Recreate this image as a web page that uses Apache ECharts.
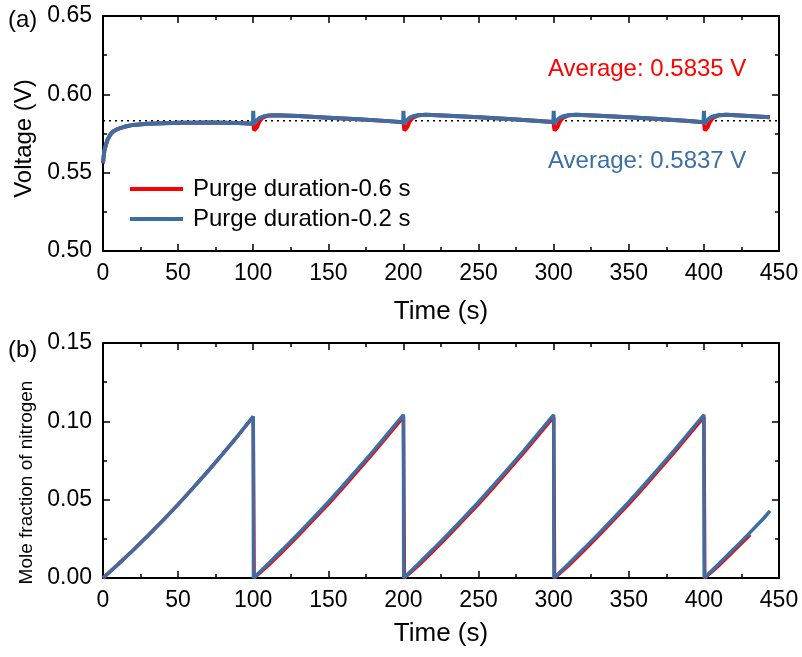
<!DOCTYPE html>
<html>
<head>
<meta charset="utf-8">
<script src="https://cdn.jsdelivr.net/npm/echarts@6/dist/echarts.min.js"></script>
<style>html,body{margin:0;padding:0;background:#fff}#c{width:802px;height:657px}</style>
</head>
<body>
<div id="c"></div>
<script>
// ---------- data ----------
var seriesNames = ['Purge duration-0.6 s', 'Purge duration-0.2 s'];
var xTicks = [0, 50, 100, 150, 200, 250, 300, 350, 400, 450];
var voltTicks = [0.50, 0.55, 0.60, 0.65];
var moleTicks = [0.00, 0.05, 0.10, 0.15];
var averageLineTime = [0, 450];
var averageLine = [0.5832, 0.5832];
var averageRedText = 'Average: 0.5835 V';
var averageBlueText = 'Average: 0.5837 V';

// Voltage, purge 0.2 s (blue)
var voltBlueTime = [0, 0.5, 1, 2, 3, 5, 7, 10, 15, 20, 30, 40, 50, 60, 70, 80, 90, 99.8,
  100, 100.3, 101, 102, 104, 107, 110, 115, 130, 150, 170, 190, 199.8,
  200, 200.3, 201, 202, 204, 207, 210, 215, 230, 250, 270, 290, 299.8,
  300, 300.3, 301, 302, 304, 307, 310, 315, 330, 350, 370, 390, 399.8,
  400, 400.3, 401, 402, 404, 407, 410, 415, 430, 444];
var voltBlue = [0.556, 0.561, 0.5645, 0.568, 0.571, 0.5745, 0.5765, 0.578, 0.5795, 0.5805, 0.5812, 0.5816, 0.5818, 0.5819, 0.582, 0.5819, 0.5817, 0.5813,
  0.5895, 0.5808, 0.5816, 0.583, 0.5848, 0.586, 0.5864, 0.5866, 0.5861, 0.5851, 0.5841, 0.5829, 0.5822,
  0.5895, 0.581, 0.5818, 0.5832, 0.585, 0.5862, 0.5867, 0.5869, 0.5864, 0.5853, 0.5842, 0.583, 0.5823,
  0.5895, 0.581, 0.5818, 0.5832, 0.585, 0.5862, 0.5867, 0.5869, 0.5864, 0.5853, 0.5842, 0.583, 0.5822,
  0.5895, 0.581, 0.5818, 0.5832, 0.585, 0.5862, 0.5867, 0.5869, 0.5862, 0.5853];

// Voltage, purge 0.6 s (red)
var voltRedTime = [0, 0.5, 1, 2, 3, 5, 7, 10, 15, 20, 30, 40, 50, 60, 70, 80, 90, 99.8,
  100, 100.6, 101.5, 102.5, 104, 106, 110, 115, 130, 150, 170, 190, 199.8,
  200, 200.6, 201.5, 202.5, 204, 206, 210, 215, 230, 250, 270, 290, 299.8,
  300, 300.6, 301.5, 302.5, 304, 306, 310, 315, 330, 350, 370, 390, 399.8,
  400, 400.6, 401.5, 402.5, 404, 406, 410, 415, 430, 444];
var voltRed = [0.556, 0.561, 0.5645, 0.568, 0.571, 0.5745, 0.5765, 0.578, 0.5795, 0.5805, 0.5812, 0.5816, 0.5818, 0.5819, 0.582, 0.5819, 0.5817, 0.5813,
  0.5835, 0.577, 0.5768, 0.579, 0.5825, 0.585, 0.5865, 0.5867, 0.5861, 0.5851, 0.5841, 0.5829, 0.5822,
  0.5835, 0.577, 0.5768, 0.579, 0.5825, 0.585, 0.5867, 0.5869, 0.5864, 0.5853, 0.5842, 0.583, 0.5823,
  0.5835, 0.577, 0.5768, 0.579, 0.5825, 0.585, 0.5867, 0.5869, 0.5864, 0.5853, 0.5842, 0.583, 0.5822,
  0.5835, 0.577, 0.5768, 0.579, 0.5825, 0.585, 0.5867, 0.5869, 0.5862, 0.5853];

// Mole fraction of nitrogen, purge 0.2 s (blue)
var moleBlueTime = [0, 10, 20, 30, 40, 50, 60, 70, 80, 90, 100,
  100.2, 110, 120, 130, 140, 150, 160, 170, 180, 190, 200,
  200.2, 210, 220, 230, 240, 250, 260, 270, 280, 290, 300,
  300.2, 310, 320, 330, 340, 350, 360, 370, 380, 390, 400,
  400.2, 410, 420, 430, 440, 444];
var moleBlue = [0, 0.0087, 0.0177, 0.0271, 0.0369, 0.047, 0.0575, 0.0683, 0.0795, 0.0911, 0.103,
  0, 0.0091, 0.0186, 0.0283, 0.0383, 0.0485, 0.0592, 0.0701, 0.0812, 0.0927, 0.1042,
  0, 0.0091, 0.0186, 0.0283, 0.0383, 0.0485, 0.0592, 0.0701, 0.0812, 0.0927, 0.1042,
  0, 0.0091, 0.0186, 0.0283, 0.0383, 0.0485, 0.0592, 0.0701, 0.0812, 0.0927, 0.1042,
  0, 0.0091, 0.0186, 0.0283, 0.0383, 0.0428];

// Mole fraction of nitrogen, purge 0.6 s (red)
var moleRedTime = [0, 10, 20, 30, 40, 50, 60, 70, 80, 90, 100,
  100.6, 101.2, 110, 120, 130, 140, 150, 160, 170, 180, 190, 200,
  200.6, 201.2, 210, 220, 230, 240, 250, 260, 270, 280, 290, 300,
  300.6, 301.2, 310, 320, 330, 340, 350, 360, 370, 380, 390, 400,
  400.6, 401.2, 410, 420, 430.8];
var moleRed = [0, 0.0087, 0.0177, 0.0271, 0.0369, 0.047, 0.0575, 0.0683, 0.0795, 0.0911, 0.103,
  0, 0, 0.008, 0.0174, 0.0271, 0.0371, 0.0472, 0.0579, 0.0688, 0.0799, 0.0913, 0.1028,
  0, 0, 0.008, 0.0174, 0.0271, 0.0371, 0.0472, 0.0579, 0.0688, 0.0799, 0.0913, 0.1028,
  0, 0, 0.008, 0.0174, 0.0271, 0.0371, 0.0472, 0.0579, 0.0688, 0.0799, 0.0913, 0.1028,
  0, 0, 0.008, 0.0174, 0.0276];

// ---------- chart ----------
var RED = '#ff0000', BLUE = '#3b6ea5', FONT = 'Liberation Sans, Arial, sans-serif';
function zip(t, v) { return t.map(function (x, i) { return [x, v[i]]; }); }

function xAxisFor(grid, pos, labels, name, gap) {
  return {
    type: 'value', gridIndex: grid, position: pos, min: xTicks[0], max: xTicks[xTicks.length - 1],
    interval: xTicks[1] - xTicks[0],
    name: name || '', nameLocation: 'middle', nameGap: gap || 46,
    nameTextStyle: { fontSize: 26, color: '#000', fontFamily: FONT },
    axisLine: { show: true, onZero: false, lineStyle: { color: '#000', width: 2 } },
    axisTick: { show: true, inside: true, length: 7, lineStyle: { color: '#000', width: 1.5 } },
    minorTick: { show: true, splitNumber: 2, length: 4, lineStyle: { color: '#000', width: 1.5 } },
    splitLine: { show: false },
    axisLabel: { show: labels, fontSize: 23, color: '#000', fontFamily: FONT, margin: 11 }
  };
}
function yAxisFor(grid, pos, ticks, labels, name, nameSize, nameGap, namePad) {
  return {
    type: 'value', gridIndex: grid, position: pos, min: ticks[0], max: ticks[ticks.length - 1],
    interval: 0.05,
    name: name || '', nameLocation: 'middle', nameGap: nameGap || 60, nameRotate: 90,
    nameTextStyle: { fontSize: nameSize || 24, color: '#000', fontFamily: FONT, padding: namePad || 0 },
    axisLine: { show: true, onZero: false, lineStyle: { color: '#000', width: 2 } },
    axisTick: { show: true, inside: true, length: 7, lineStyle: { color: '#000', width: 1.5 } },
    minorTick: { show: true, splitNumber: 2, length: 4, lineStyle: { color: '#000', width: 1.5 } },
    splitLine: { show: false },
    axisLabel: { show: labels, fontSize: 23, color: '#000', fontFamily: FONT, margin: 11,
      formatter: function (v) { return v.toFixed(2); } }
  };
}

var chart = echarts.init(document.getElementById('c'), null, { renderer: 'canvas' });
chart.setOption({
  animation: false,
  backgroundColor: '#fff',
  textStyle: { fontFamily: FONT },
  grid: [
    { left: 103, top: 16, width: 676, height: 235 },
    { left: 103, top: 343, width: 676, height: 235 }
  ],
  xAxis: [
    xAxisFor(0, 'bottom', true, 'Time (s)', 48),
    xAxisFor(0, 'top', false),
    xAxisFor(1, 'bottom', true, 'Time (s)', 43),
    xAxisFor(1, 'top', false)
  ],
  yAxis: [
    yAxisFor(0, 'left', voltTicks, true, 'Voltage (V)', 24, 66, [0, 10, 0, 0]),
    yAxisFor(0, 'right', voltTicks, false),
    yAxisFor(1, 'left', moleTicks, true, 'Mole fraction of nitrogen', 19, 66, [0, 44, 0, 0]),
    yAxisFor(1, 'right', moleTicks, false)
  ],
  legend: {
    data: seriesNames, orient: 'vertical', left: 130, top: 177, padding: 0,
    itemWidth: 53, itemHeight: 4, itemGap: 6, icon: 'rect',
    textStyle: { fontSize: 24, color: '#000', fontFamily: FONT, padding: [0, 0, 0, 5], lineHeight: 24 }
  },
  graphic: [
    { type: 'text', left: 8, top: 8, style: { text: '(a)', fontSize: 24, fill: '#000', fontFamily: FONT } },
    { type: 'text', left: 8, top: 338, style: { text: '(b)', fontSize: 24, fill: '#000', fontFamily: FONT } },
    { type: 'text', left: 548, top: 57, style: { text: averageRedText, fontSize: 24, fill: RED, fontFamily: FONT } },
    { type: 'text', left: 548, top: 149, style: { text: averageBlueText, fontSize: 24, fill: BLUE, fontFamily: FONT } }
  ],
  series: [
    { name: 'average', type: 'line', xAxisIndex: 0, yAxisIndex: 0, showSymbol: false, symbol: 'none', silent: true,
      lineStyle: { color: '#000', type: [2, 4], width: 1.5 }, data: zip(averageLineTime, averageLine), z: 1 },
    { name: seriesNames[0], type: 'line', xAxisIndex: 0, yAxisIndex: 0, showSymbol: false, symbol: 'none',
      lineStyle: { color: RED, width: 4 }, itemStyle: { color: RED }, data: zip(voltRedTime, voltRed), z: 2 },
    { name: seriesNames[1], type: 'line', xAxisIndex: 0, yAxisIndex: 0, showSymbol: false, symbol: 'none',
      lineStyle: { color: BLUE, width: 4 }, itemStyle: { color: BLUE }, data: zip(voltBlueTime, voltBlue), z: 3 },
    { name: seriesNames[0], type: 'line', xAxisIndex: 2, yAxisIndex: 2, showSymbol: false, symbol: 'none',
      lineStyle: { color: RED, width: 3.5 }, itemStyle: { color: RED }, data: zip(moleRedTime, moleRed), z: 2 },
    { name: seriesNames[1], type: 'line', xAxisIndex: 2, yAxisIndex: 2, showSymbol: false, symbol: 'none',
      lineStyle: { color: BLUE, width: 3.5 }, itemStyle: { color: BLUE }, data: zip(moleBlueTime, moleBlue), z: 3 }
  ]
});
</script>
</body>
</html>
